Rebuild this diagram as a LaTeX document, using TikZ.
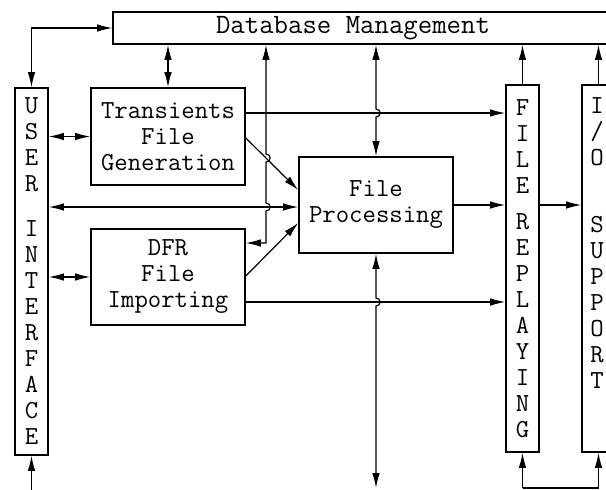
\documentclass[tikz,border=0pt]{standalone}
\usepackage{fontspec}
\usetikzlibrary{arrows.meta}
\newcommand\dgfont{\ttfamily\fontsize{26}{26}\selectfont}
\newcommand\dbfont{\ttfamily\fontsize{28}{28}\selectfont\addfontfeature{LetterSpace=4}}
\begin{document}
\begin{tikzpicture}[x=1pt,y=-1pt,
  box/.style={draw, line width=1.6pt, inner sep=0pt, font=\dgfont, align=center},
  column/.style={box, minimum width=33, minimum height=367},
  block/.style={box, minimum width=154, minimum height=96},
  wire/.style={line width=1.2pt},
  >={Latex[length=15pt,width=7.5pt]}]
\useasboundingbox (0,0) rectangle (606,490);
\clip (0,0) rectangle (606,490);

% boxes
\node[box, font=\dbfont, minimum width=507, minimum height=32] (db) at (366.5,28)
  {Database Management\hspace*{27pt}};
\node[column] (ui) at (31.5,271.5)
  {U\\S\\E\\R\\[19pt]I\\N\\T\\E\\R\\F\\A\\C\\E};
\node[block, minimum height=97] (tfg) at (168,136.5) {Transients\\File\\Generation};
\node[block] (dfr) at (168,277) {DFR\\File\\Importing};
\node[block] (fp) at (376,205) {File\\Processing};
\node[column] (fr) at (522.5,268.5)
  {F\\I\\L\\E\\[10pt]R\\E\\P\\L\\A\\Y\\I\\N\\G};
\node[column] (io) at (598.5,268.5) {};
\node[font=\dgfont, align=center, inner sep=0pt, anchor=north] (iotext) at (597,97)
  {I\\/\\O\\[41pt]S\\U\\P\\P\\O\\R\\T};

% user interface links
\draw[wire,<->] (ui.north) |- (db.west);
\draw[wire,<->] (ui.east |- tfg.west) -- (tfg.west);
\draw[wire,<->] (ui.east |- dfr.west) -- (dfr.west);
\draw[wire,<->] (ui.east |- 0,207) -- (fp.west |- 0,207);
\draw[wire,->] (ui.south |- 0,490) -- (ui.south);

% generation and import into processing
\draw[wire,<->] (tfg.north) -- (tfg.north |- db.south);
\draw[wire,->] (tfg.east |- 0,138) -- (fp.west |- 0,190);
\draw[wire,->] (dfr.east |- 0,276) -- (fp.west |- 0,223);
\draw[wire,->] (tfg.east |- 0,113) -- (fr.west |- 0,113);
\draw[wire,->] (dfr.east |- 0,302) -- (fr.west |- 0,302);

% import to database, hopping over the crossings
\draw[wire,<->] (dfr.east |- 0,243) -- (266,243) -- (266,211)
  .. controls (271.5,211) and (271.5,203) .. (266,203) -- (266,162)
  .. controls (271.5,162) and (271.5,154) .. (266,154) -- (266,0 |- db.south);

% processing to database and below
\draw[wire,<->] (fp.north) -- (376,117)
  .. controls (381.5,117) and (381.5,109) .. (376,109) -- (fp.north |- db.south);
\draw[wire,<->] (fp.south) -- (376,298)
  .. controls (381.5,298) and (381.5,306) .. (376,306) -- (376,488);

% replaying and i/o support
\draw[wire,->] (fp.east) -- (fr.west |- fp.east);
\draw[wire,->] (fr.east |- fp.east) -- (io.west |- fp.east);
\draw[wire,->] (fr.north) -- (fr.north |- db.south);
\draw[wire,->] (io.north) -- (io.north |- db.south);
\draw[wire,->] (fr.south |- 0,488) -- (fr.south);
\draw[wire,->] (fr.south |- 0,488) -- (io.south |- 0,488) -- (io.south);
\end{tikzpicture}
\end{document}
